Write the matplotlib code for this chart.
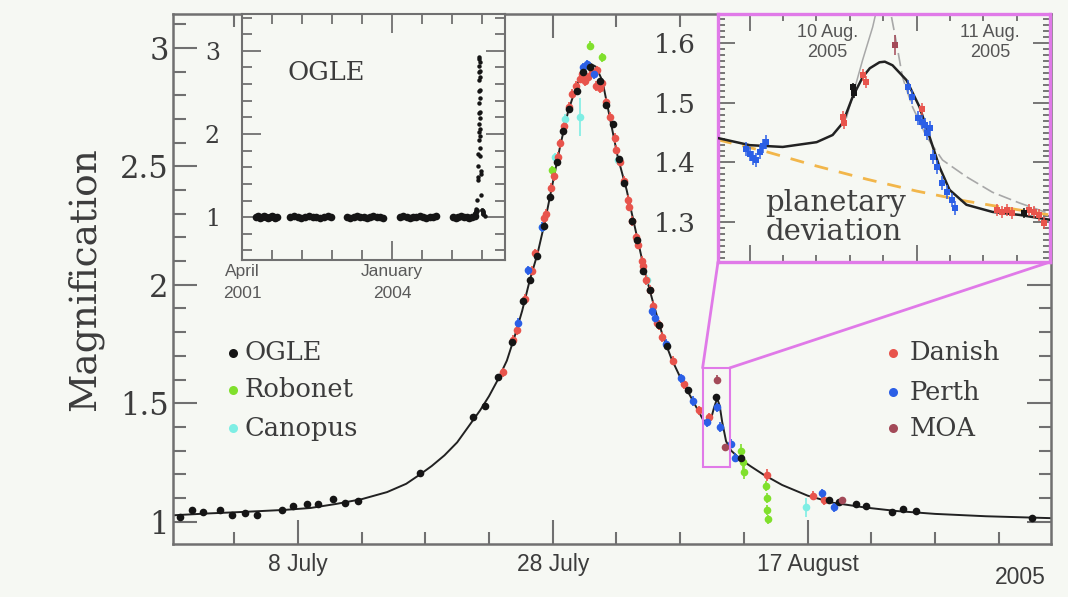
import matplotlib
matplotlib.use('Agg')
import matplotlib.pyplot as plt
from matplotlib.ticker import MultipleLocator
from matplotlib.patches import Rectangle, ConnectionPatch

# ---------------- data (main panel: days since 8 July 2005, magnification) -------------
model_t = [-9.8, -7, -4, -1, 1, 3, 5, 7, 8.5, 9.6, 10.5, 11.5, 12.5, 13.5, 14.3, 15.0,
           15.7, 16.4, 17.0, 17.6, 18.2, 18.8, 19.4, 20.0, 20.6, 21.2, 21.8, 22.4, 22.9,
           23.4, 23.9, 24.5, 25.1, 25.8, 26.5, 27.2, 27.9, 28.6, 29.3, 30.0, 30.7, 31.3,
           31.8, 32.1, 32.4, 32.65, 32.9, 33.1, 33.3, 33.6, 34.0, 34.7, 35.5, 36.5, 38,
           40, 42, 44.5, 47, 50, 54, 59.1]
model_A = [1.027, 1.035, 1.042, 1.05, 1.058, 1.075, 1.095, 1.125, 1.16, 1.2, 1.235, 1.28,
           1.335, 1.41, 1.47, 1.53, 1.6, 1.68, 1.78, 1.89, 2.02, 2.13, 2.27, 2.43, 2.59,
           2.73, 2.83, 2.905, 2.935, 2.92, 2.86, 2.70, 2.54, 2.40, 2.23, 2.06, 1.92, 1.79,
           1.69, 1.61, 1.54, 1.48, 1.43, 1.415, 1.43, 1.48, 1.52, 1.49, 1.42, 1.34, 1.3,
           1.265, 1.235, 1.2, 1.155, 1.11, 1.08, 1.06, 1.045, 1.033, 1.023, 1.015]

ogle_t = [-9.25, -8.31, -7.45, -6.12, -5.18, -4.16, -3.22, -1.25, -0.39, 0.71, 1.57, 2.75,
          3.69, 4.71, 9.57, 13.73, 14.67, 15.69, 16.78, 17.65, 18.2, 18.75, 19.3, 19.76,
          20.3, 20.8, 21.3, 21.9, 22.4, 22.9, 23.7, 24.2, 24.7, 25.2, 25.6, 26.2, 26.6,
          27.1, 27.6, 28.3, 29.0, 30.6, 32.8, 34.8, 41.7, 42.5, 43.8, 44.6, 46.6, 47.5,
          48.5, 57.6]
ogle_A = [1.02, 1.049, 1.041, 1.049, 1.027, 1.037, 1.027, 1.051, 1.065, 1.074, 1.074, 1.095,
          1.079, 1.086, 1.206, 1.441, 1.487, 1.61, 1.757, 1.93, 2.02, 2.12, 2.25, 2.37,
          2.52, 2.65, 2.74, 2.82, 2.9, 2.92, 2.86, 2.76, 2.68, 2.53, 2.43, 2.27, 2.19,
          2.06, 1.98, 1.83, 1.74, 1.555, 1.525, 1.27, 1.09, 1.082, 1.074, 1.065, 1.04, 1.053,
          1.044, 1.015]

danish_t = [16.1, 16.86, 17.2, 17.8, 18.4, 18.6, 19.3, 19.5, 19.9, 20.1, 20.4, 20.55, 20.9,
            21.3, 21.5, 21.8, 22.1, 22.3, 22.5, 22.75, 23.1, 23.4, 23.45, 23.7, 23.9, 24.2,
            24.5, 24.86, 25.0, 25.3, 25.6, 25.9, 26.0, 26.2, 26.5, 26.7, 26.98, 27.1, 27.3,
            27.6, 27.9, 28.2, 28.3, 28.6, 29.4, 30.3, 31.5, 32.3, 36.8, 40.4, 41.3]
danish_A = [1.63, 1.766, 1.81, 1.94, 2.06, 2.133, 2.28, 2.30, 2.41, 2.46, 2.54, 2.597, 2.67,
            2.75, 2.807, 2.84, 2.87, 2.89, 2.86, 2.876, 2.9, 2.84, 2.905, 2.83, 2.85, 2.77,
            2.71, 2.62, 2.57, 2.52, 2.44, 2.357, 2.33, 2.27, 2.2, 2.17, 2.1, 2.08, 2.02,
            1.98, 1.91, 1.84, 1.83, 1.78, 1.68, 1.58, 1.47, 1.44, 1.196, 1.11, 1.09]
danish_err = [0.02] * 48 + [0.025, 0.02, 0.02]

perth_t = [17.25, 18.04, 19.14, 22.35, 22.7, 23.2, 27.76, 28.0, 28.9, 30.1, 31.0, 32.1,
           32.9, 33.1, 34.0, 34.3, 41.1, 42.1]
perth_A = [1.84, 2.061, 2.243, 2.918, 2.93, 2.89, 1.89, 1.86, 1.75, 1.605, 1.51, 1.42,
           1.483, 1.4, 1.33, 1.27, 1.12, 1.06]

robonet_t = [19.92, 22.9, 23.9, 34.8, 34.9, 35.0, 36.75, 36.8, 36.85, 36.9]
robonet_A = [2.483, 3.01, 2.96, 1.30, 1.25, 1.21, 1.15, 1.10, 1.05, 1.01]
robonet_err = [0.02, 0.02, 0.02, 0.03, 0.03, 0.03, 0.02, 0.02, 0.02, 0.02]

canopus_t = [19.14, 20.16, 21.0, 22.1, 25.1, 27.4, 39.9]
canopus_A = [2.243, 2.538, 2.70, 2.71, 2.525, 2.02, 1.06]
canopus_err = [0.02, 0.02, 0.02, 0.08, 0.02, 0.02, 0.04]

moa_t = [32.86, 33.5, 42.7]
moa_A = [1.60, 1.315, 1.09]
moa_err = [0.02, 0.015, 0.01]

# ---------------- OGLE long-term inset (HJD-2450000) ----------------
JD_8JULY = 3559.5
base_hjd = [2095, 2108, 2120, 2133, 2146, 2160, 2172, 2185, 2198, 2210, 2222, 2233,
            2320, 2345, 2370, 2395, 2420, 2445, 2470, 2495, 2520, 2545, 2570, 2595,
            2700, 2722, 2744, 2766, 2788, 2810, 2832, 2854, 2876, 2898, 2920, 2940,
            3053, 3075, 3097, 3119, 3141, 3163, 3185, 3207, 3229, 3251, 3273, 3295,
            3407, 3425, 3443, 3461, 3479, 3497, 3515, 3533, 3550]
base_A = [1.0, 1.01, 0.99, 1.0, 1.01, 1.0, 0.99, 1.0, 1.01, 1.0, 0.99, 1.0,
          1.0, 1.01, 1.0, 0.99, 1.0, 1.01, 1.0, 1.0, 0.99, 1.0, 1.01, 1.0,
          1.0, 0.99, 1.0, 1.01, 1.0, 1.0, 0.99, 1.0, 1.01, 1.0, 1.0, 0.99,
          1.0, 1.01, 1.0, 0.99, 1.0, 1.0, 1.01, 1.0, 0.99, 1.0, 1.0, 1.01,
          1.0, 0.99, 1.0, 1.01, 1.0, 1.0, 0.99, 1.0, 1.01]

# ---------------- planetary deviation inset (day of August 2005) ----------------
pl_model_x = [9.808, 10.0, 10.198, 10.401, 10.497, 10.557, 10.587, 10.617, 10.677, 10.72,
              10.778, 10.81, 10.856, 10.94, 11.018, 11.078, 11.138, 11.198, 11.299, 11.455,
              11.617, 11.796]
pl_model_A = [1.441, 1.429, 1.426, 1.434, 1.446, 1.466, 1.488, 1.51, 1.543, 1.558, 1.568,
              1.569, 1.563, 1.538, 1.493, 1.443, 1.392, 1.354, 1.329, 1.317, 1.312, 1.304]
pl_single_x = [9.81, 10.1, 10.4, 10.7, 11.0, 11.3, 11.6, 11.8]
pl_single_A = [1.438, 1.418, 1.394, 1.372, 1.352, 1.335, 1.321, 1.312]
pl_alt1_x = [10.58, 10.61, 10.677, 10.737, 10.76]
pl_alt1_A = [1.475, 1.505, 1.572, 1.627, 1.655]
pl_alt2_x = [10.85, 10.88, 10.916, 10.976, 11.06, 11.156, 11.299, 11.455, 11.617, 11.778]
pl_alt2_A = [1.644, 1.6, 1.543, 1.493, 1.443, 1.404, 1.376, 1.35, 1.332, 1.316]

pl_perth_x = [9.98, 10.0, 10.02, 10.04, 10.06, 10.08, 10.10,
              10.946, 10.97, 11.006, 11.03, 11.048, 11.06, 11.078, 11.096, 11.12, 11.15,
              11.18, 11.21, 11.228]
pl_perth_A = [1.422, 1.414, 1.408, 1.404, 1.418, 1.428, 1.434,
              1.526, 1.51, 1.474, 1.468, 1.463, 1.449, 1.457, 1.409, 1.392, 1.365,
              1.35, 1.337, 1.324]
pl_danish_x = [10.557, 10.563, 10.677, 10.70, 11.03, 11.485, 11.515, 11.545, 11.575,
               11.677, 11.707, 11.737, 11.766]
pl_danish_A = [1.476, 1.466, 1.546, 1.535, 1.49, 1.32, 1.317, 1.32, 1.315, 1.32, 1.317,
               1.312, 1.298]
pl_ogle_x = [10.617, 10.623, 11.647]
pl_ogle_A = [1.526, 1.516, 1.315]
pl_moa_x = [10.868]
pl_moa_A = [1.597]

# ---------------- styling ----------------
BG = '#f6f8f3'
SPINE = '#707070'
TXT = '#3c3c3c'
MAG = '#e07ae8'
C_OGLE, C_ROBO, C_CANO = '#151515', '#80e02c', '#7eeee4'
C_DAN, C_PER, C_MOA = '#e8544c', '#2b5fe6', '#a34a58'
SERIF = 'DejaVu Serif'
SANS = 'Liberation Sans'

fig = plt.figure(figsize=(10.68, 5.97), dpi=100, facecolor=BG)

# ---------------- main axes ----------------
ax = fig.add_axes([173/1068, 1-543.5/597, 878/1068, 529.5/597], facecolor=BG)
ax.set_xlim(-9.8, 59.1)
ax.set_ylim(0.908, 3.143)
for s in ax.spines.values():
    s.set_color(SPINE); s.set_linewidth(1.8)
ax.set_xticks([0, 20, 40])
ax.set_xticklabels(['8 July', '28 July', '17 August'], family=SANS, fontsize=16.5, color=TXT)
ax.xaxis.set_minor_locator(MultipleLocator(5))
ax.set_yticks([1, 1.5, 2, 2.5, 3])
ax.set_yticklabels(['1', '1.5', '2', '2.5', '3'], family=SERIF, fontsize=22, color=TXT)
ax.yaxis.set_minor_locator(MultipleLocator(0.1))
ax.tick_params(which='both', direction='in', top=True, right=True, color=SPINE, width=1.5)
ax.tick_params(which='major', length=17)
ax.tick_params(which='minor', length=9)
ax.tick_params(axis='x', pad=7)
ax.tick_params(axis='y', pad=3)
ax.set_ylabel('Magnification', family=SERIF, fontsize=27, color=TXT, labelpad=12)

ax.plot(model_t, model_A, color='#222222', lw=1.4, zorder=2)
eb = dict(fmt='o', ms=5.5, mew=0, elinewidth=1.2, capsize=0, zorder=3)
ax.errorbar(robonet_t, robonet_A, yerr=robonet_err, color=C_ROBO, ecolor=C_ROBO, **eb)
ax.errorbar(canopus_t, canopus_A, yerr=canopus_err, color=C_CANO, ecolor=C_CANO, **eb)
ax.errorbar(danish_t, danish_A, yerr=danish_err, color=C_DAN, ecolor=C_DAN, **eb)
ax.errorbar(perth_t, perth_A, yerr=0.02, color=C_PER, ecolor=C_PER, **eb)
ax.errorbar(ogle_t, ogle_A, yerr=0.01, color=C_OGLE, ecolor=C_OGLE, **eb)
ax.errorbar(moa_t, moa_A, yerr=moa_err, color=C_MOA, ecolor=C_MOA, **eb)

# legends
for lab, col, yy in [('OGLE', C_OGLE, 0.360), ('Robonet', C_ROBO, 0.290), ('Canopus', C_CANO, 0.218)]:
    ax.plot([0.0683], [yy], 'o', color=col, ms=6.5, mew=0, transform=ax.transAxes)
    ax.text(0.082, yy, lab, transform=ax.transAxes, va='center', ha='left',
            family=SERIF, fontsize=18.5, color=TXT)
for lab, col, yy in [('Danish', C_DAN, 0.360), ('Perth', C_PER, 0.286), ('MOA', C_MOA, 0.218)]:
    ax.plot([0.820], [yy], 'o', color=col, ms=6.5, mew=0, transform=ax.transAxes)
    ax.text(0.839, yy, lab, transform=ax.transAxes, va='center', ha='left',
            family=SERIF, fontsize=18.5, color=TXT)

fig.text(1020/1068, 1-578/597, '2005', family=SANS, fontsize=16.5, color=TXT,
         ha='center', va='center')

# ---------------- OGLE long-term inset ----------------
axo = fig.add_axes([242/1068, 1-260/597, 263/1068, 246/597], facecolor=BG, zorder=5)
axo.set_xlim(2000, 3753)
axo.set_ylim(0.485, 3.443)
for s in axo.spines.values():
    s.set_color(SPINE); s.set_linewidth(1.5)
axo.set_xticks([2000, 3000])
axo.set_xticklabels(['April\n2001', 'January\n2004'], family=SANS, fontsize=12.5,
                    color='#5a5a5a', linespacing=1.55)
axo.xaxis.set_minor_locator(MultipleLocator(200))
axo.set_yticks([1, 2, 3])
axo.set_yticklabels(['1', '2', '3'], family=SERIF, fontsize=17, color=TXT)
axo.yaxis.set_minor_locator(MultipleLocator(0.2))
axo.tick_params(which='both', direction='in', top=True, right=True, color=SPINE, width=1.3)
axo.tick_params(which='major', length=14)
axo.tick_params(which='minor', length=7)
axo.tick_params(axis='x', pad=3)
axo.tick_params(axis='y', pad=16)
axo.plot(base_hjd, base_A, 'o', color=C_OGLE, ms=5.5, mew=0)
axo.plot([JD_8JULY + t for t in ogle_t], ogle_A, 'o', color=C_OGLE, ms=3.2, mew=0)
axo.text(0.32, 0.763, 'OGLE', transform=axo.transAxes, family=SERIF, fontsize=18.5,
         color=TXT, ha='center', va='center')

# ---------------- planetary deviation inset ----------------
PL_XLIM = (9.81, 11.80)
PL_YLIM = (1.233, 1.649)
BOX_T = (31.76, 33.88)   # position of the zoomed window on the main time axis

axp = fig.add_axes([718/1068, 1-262/597, 332/1068, 248/597], facecolor=BG, zorder=5)
axp.set_xlim(*PL_XLIM)
axp.set_ylim(*PL_YLIM)
for s in axp.spines.values():
    s.set_color(MAG); s.set_linewidth(2.4)
axp.set_xticks([10, 11])
axp.set_xticklabels([])
axp.xaxis.set_minor_locator(MultipleLocator(0.2))
axp.set_yticks([1.3, 1.4, 1.5, 1.6])
axp.set_yticklabels(['1.3', '1.4', '1.5', '1.6'], family=SERIF, fontsize=19, color=TXT)
axp.yaxis.set_minor_locator(MultipleLocator(0.01))
axp.tick_params(which='both', direction='in', top=True, right=True, color='#606060', width=1.2)
axp.tick_params(which='major', length=12)
axp.tick_params(which='minor', length=5)
axp.tick_params(axis='y', pad=16)

axp.plot(pl_single_x, pl_single_A, color='#f2b64a', lw=2, ls=(0, (5, 4)), zorder=2)
axp.plot(pl_alt1_x, pl_alt1_A, color='#a8a8a8', lw=1.1, zorder=2)
axp.plot(pl_alt2_x, pl_alt2_A, color='#a8a8a8', lw=1.2, ls=(0, (8, 3)), zorder=2)
axp.plot(pl_model_x, pl_model_A, color='#222222', lw=1.8, zorder=3)
ebp = dict(fmt='s', ms=3.8, mew=0, elinewidth=1.1, capsize=1.8, zorder=4)
axp.errorbar(pl_perth_x, pl_perth_A, yerr=0.012, color=C_PER, ecolor=C_PER, **ebp)
axp.errorbar(pl_danish_x, pl_danish_A, yerr=0.01, color=C_DAN, ecolor=C_DAN, **ebp)
axp.errorbar(pl_ogle_x, pl_ogle_A, yerr=0.008, color=C_OGLE, ecolor=C_OGLE, **ebp)
axp.errorbar(pl_moa_x, pl_moa_A, yerr=0.017, color=C_MOA, ecolor=C_MOA, **ebp)

axp.text(0.33, 0.885, '10 Aug.\n2005', transform=axp.transAxes, family=SANS, fontsize=13,
         color='#555555', ha='center', va='center', linespacing=1.3)
axp.text(0.82, 0.885, '11 Aug.\n2005', transform=axp.transAxes, family=SANS, fontsize=13,
         color='#555555', ha='center', va='center', linespacing=1.3)
axp.text(0.142, 0.18, 'planetary\ndeviation', transform=axp.transAxes, family=SERIF,
         fontsize=21, color='#404040', ha='left', va='center', linespacing=1.05)

# zoom box on main axes and connectors
ax.add_patch(Rectangle((BOX_T[0], PL_YLIM[0]), BOX_T[1]-BOX_T[0], PL_YLIM[1]-PL_YLIM[0],
                       fill=False, ec=MAG, lw=1.5, zorder=4))
for xa, xb in [(0, BOX_T[0]), (1, BOX_T[1])]:
    con = ConnectionPatch(xyA=(xa, 0), coordsA=axp.transAxes, xyB=(xb, PL_YLIM[1]),
                          coordsB=ax.transData, color=MAG, lw=2)
    fig.add_artist(con)

fig.savefig('out.png', dpi=100, facecolor=BG)
